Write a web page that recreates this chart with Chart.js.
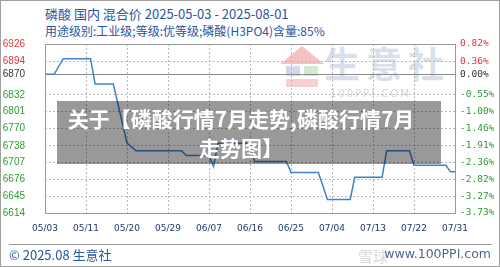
<!DOCTYPE html>
<html>
<head>
<meta charset="utf-8">
<script src="https://cdn.jsdelivr.net/npm/chart.js@4"></script>
<style>
  html, body { margin: 0; padding: 0; background: #fff; }
  #wrap { position: relative; width: 500px; height: 267px; overflow: hidden; font-family: "Noto Sans CJK SC", sans-serif; }
  #frame { position: absolute; left: 0; top: 0; width: 498px; height: 265px; border: 1px solid #a0a0a0; }
  .title { position: absolute; left: 45px; color: #2a55a0; white-space: nowrap; }
  #t1 { top: 4px; font-size: 13px; }
  #t2 { top: 22px; font-size: 12px; }
  #wm { position: absolute; left: 324px; top: 36px; font-size: 36px; font-weight: bold; letter-spacing: 6px; color: rgba(170,185,210,0.45); }
  #wm2 { position: absolute; left: 330px; top: 88px; font-size: 10px; letter-spacing: 2px; color: rgba(170,170,170,0.5); font-family: "DejaVu Sans", sans-serif; }
  #roof { position: absolute; left: 280px; top: 46px; width: 0; height: 0; border-left: 22px solid transparent; border-right: 22px solid transparent; border-bottom: 18px solid rgba(230,120,120,0.45); }
  #house1 { position: absolute; left: 286px; top: 66px; width: 14px; height: 10px; background: rgba(120,150,200,0.35); }
  #house2 { position: absolute; left: 304px; top: 66px; width: 14px; height: 10px; background: rgba(120,200,120,0.35); }
  #house3 { position: absolute; left: 286px; top: 79px; width: 32px; height: 8px; background: rgba(230,120,120,0.35); }
  canvas { position: absolute; left: 0; top: 0; }
  #overlay { position: absolute; left: 57px; top: 101px; width: 384px; height: 63px; background: rgba(0,0,0,0.4); color: #fff; font-weight: bold; font-size: 21px; line-height: 29px; text-align: center; padding: 3px 16px 0 0; box-sizing: border-box; white-space: nowrap; }
  #foot { position: absolute; left: 9px; top: 244px; width: 483px; border-top: 1px solid #999; }
  #copy { position: absolute; left: 9px; top: 245px; font-size: 13px; color: #2a55a0; }
  #xq { position: absolute; left: 358px; top: 245px; font-size: 15px; color: rgba(190,190,190,0.6); }
  #site { position: absolute; right: 9px; top: 246px; font-size: 12.5px; color: #506890; font-family: "DejaVu Sans", sans-serif; }
</style>
</head>
<body>
<div id="wrap">
  <div id="frame"></div>
  <div class="title" id="t1">磷酸 国内 混合价 2025-05-03 - 2025-08-01</div>
  <div class="title" id="t2">用途级别:工业级;等级:优等级;磷酸(H3PO4)含量:85%</div>
  <div id="roof"></div><div id="house1"></div><div id="house2"></div><div id="house3"></div>
  <div id="wm">生意社</div>
  <div id="wm2">100PPI.COM</div>
  <canvas id="chart" width="500" height="267"></canvas>
  <div id="overlay">关于【磷酸行情7月走势,磷酸行情7月<br>走势图】</div>
  <div id="foot"></div>
  <div id="copy">© 2025.08 生意社</div>
  <div id="xq">雪球</div>
  <div id="site">www.100PPI.com</div>
</div>
<script>
// price data (day offset from 05/03, yuan/ton)
const baseline = 6870;
const days = [0, 2, 4, 10, 11, 15, 18, 19, 20, 30, 31, 36, 37, 38, 45, 46, 53, 54, 60, 62, 67, 68, 74, 75, 80, 81, 88, 89, 90];
const prices = [6870, 6870, 6899, 6899, 6852, 6852, 6743, 6736, 6729, 6729, 6720, 6720, 6700, 6743, 6743, 6709, 6709, 6689, 6689, 6639, 6639, 6680, 6680, 6729, 6729, 6702, 6702, 6690, 6690];

// axes
const xTickDays = [0, 9, 18, 27, 36, 45, 54, 63, 72, 81, 90];
const xLabels = ["05/03", "05/11", "05/20", "05/29", "06/07", "06/16", "06/25", "07/04", "07/13", "07/22", "07/31"];
const yTicks = [6926, 6894, 6870, 6832, 6801, 6770, 6738, 6707, 6676, 6645, 6614];
const pctLabels = ["0.82%", "0.36%", "0.00%", "-0.55%", "-1.00%", "-1.46%", "-1.91%", "-2.36%", "-2.82%", "-3.27%", "-3.73%"];

const RED = "#e0353a", GREEN = "#2f9a35", DARK = "#333";
const tickColor = ctx => {
  const v = ctx.tick ? ctx.tick.value : baseline;
  return v > baseline ? RED : (v === baseline ? DARK : GREEN);
};

const boxPlugin = {
  id: "box",
  afterDraw(chart) {
    const { ctx, chartArea: a } = chart;
    ctx.save();
    ctx.strokeStyle = "#999";
    ctx.lineWidth = 1;
    ctx.strokeRect(a.left + 0.5, a.top + 0.5, a.right - a.left, a.bottom - a.top);
    ctx.restore();
  }
};

new Chart(document.getElementById("chart"), {
  type: "line",
  data: {
    datasets: [{
      data: days.map((d, i) => ({ x: d, y: prices[i] })),
      borderColor: "#3f82c6",
      borderWidth: 1.5,
      pointRadius: 0,
      tension: 0,
      yAxisID: "y"
    }]
  },
  options: {
    responsive: false,
    animation: false,
    layout: { padding: { top: 44, left: 0, right: 0, bottom: 0 } },
    plugins: { legend: { display: false }, tooltip: { enabled: false } },
    scales: {
      x: {
        type: "linear",
        min: 0, max: 90,
        afterBuildTicks: s => { s.ticks = xTickDays.map(v => ({ value: v })); },
        afterFit: s => { s.height = 54; },
        ticks: {
          callback: (v, i) => xLabels[i],
          color: "#223a6a",
          font: { family: "DejaVu Sans", size: 9 },
          padding: 10,
          maxRotation: 0,
          autoSkip: false
        },
        grid: { color: "#b8b8b8", drawTicks: false },
        border: { display: false, dash: [2, 2] }
      },
      y: {
        position: "left",
        min: 6614, max: 6926,
        afterBuildTicks: s => { s.ticks = yTicks.map(v => ({ value: v })); },
        afterFit: s => { s.width = 45; },
        ticks: {
          callback: v => String(v),
          color: tickColor,
          font: { family: "Liberation Sans", size: 10 },
          padding: 20
        },
        grid: {
          color: ctx => (ctx.tick && ctx.tick.value === baseline) ? "#8a8a8a" : "#b8b8b8",
          drawTicks: false
        },
        border: { display: false, dash: ctx => (ctx.tick && ctx.tick.value === baseline) ? [] : [2, 2] }
      },
      y2: {
        position: "right",
        min: 6614, max: 6926,
        afterBuildTicks: s => { s.ticks = yTicks.map(v => ({ value: v })); },
        afterFit: s => { s.width = 45; },
        ticks: {
          callback: (v, i) => pctLabels[i],
          color: tickColor,
          font: { family: "DejaVu Sans Mono", size: 9.5 },
          padding: 5
        },
        grid: { display: false, drawTicks: false },
        border: { display: false }
      }
    }
  },
  plugins: [boxPlugin]
});
</script>
</body>
</html>
